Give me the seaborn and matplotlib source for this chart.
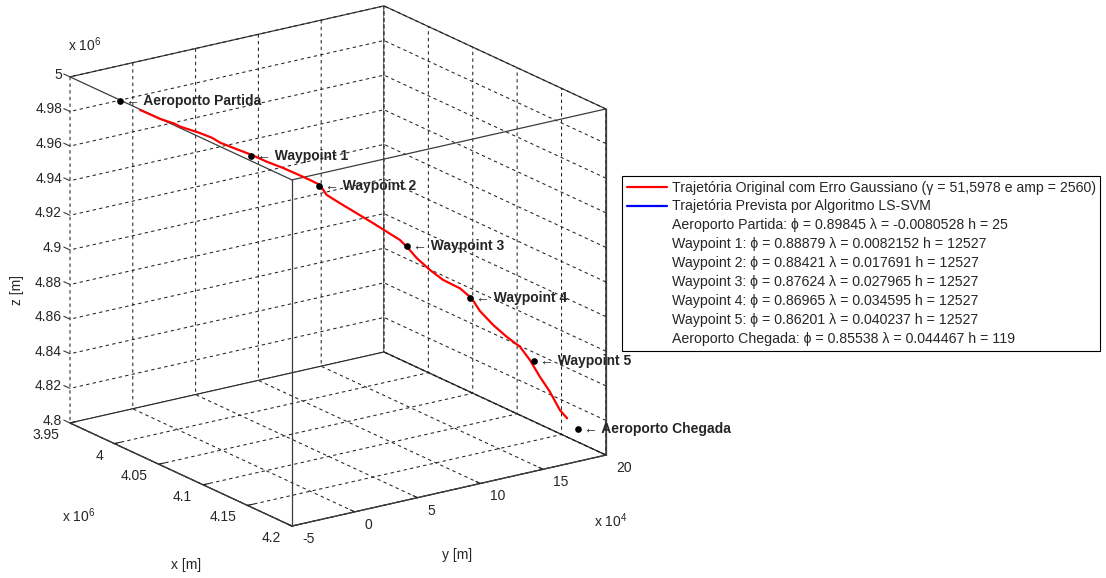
import matplotlib
matplotlib.use("Agg")
import matplotlib.pyplot as plt
from matplotlib.lines import Line2D
from matplotlib.transforms import offset_copy
from mpl_toolkits.mplot3d import proj3d
import seaborn as sns

sns.set_style("white")
plt.rcParams["font.family"] = ["Liberation Sans", "DejaVu Sans"]
plt.rcParams["mathtext.default"] = "regular"

# ---- axis ticks (metres) ----
x_ticks = [3.95e6, 4.00e6, 4.05e6, 4.10e6, 4.15e6, 4.20e6]
y_ticks = [-5e4, 0.0, 5e4, 10e4, 15e4, 20e4]
z_ticks = [4.80e6, 4.82e6, 4.84e6, 4.86e6, 4.88e6, 4.90e6,
           4.92e6, 4.94e6, 4.96e6, 4.98e6, 5.00e6]
x_ticklabels = ["3.95", "4", "4.05", "4.1", "4.15", "4.2"]
y_ticklabels = ["-5", "0", "5", "10", "15", "20"]
z_ticklabels = ["4.8", "4.82", "4.84", "4.86", "4.88", "4.9",
                "4.92", "4.94", "4.96", "4.98", "5"]

# ---- airports / waypoints ----
wp_names = ["Aeroporto Partida", "Waypoint 1", "Waypoint 2", "Waypoint 3",
            "Waypoint 4", "Waypoint 5", "Aeroporto Chegada"]
wp_phi = ["0.89845", "0.88879", "0.88421", "0.87624", "0.86965", "0.86201", "0.85538"]
wp_lam = ["-0.0080528", "0.0082152", "0.017691", "0.027965", "0.034595", "0.040237", "0.044467"]
wp_h = ["25", "12527", "12527", "12527", "12527", "12527", "119"]
# cartesian position of each point, km
wp_x_km = [3980.5, 4036.4, 4058.6, 4096.8, 4128.2, 4164.4, 4187.6]
wp_y_km = [-32.05, 33.16, 71.81, 114.60, 142.87, 167.65, 186.33]
wp_z_km = [4990.1, 4961.1, 4942.6, 4910.1, 4883.1, 4851.4, 4814.4]

# ---- trajectory with gaussian error, km ----
traj_x_km = [3989.17, 3997.67, 4004.04, 4006.17, 4013.95, 4019.64, 4023.17, 4030.27,
             4036.64, 4041.44, 4046.74, 4051.20, 4055.52, 4058.77, 4061.78, 4067.58,
             4074.85, 4082.09, 4087.92, 4093.72, 4097.34, 4101.56, 4108.15, 4114.74,
             4123.01, 4128.81, 4133.63, 4141.24, 4148.91, 4156.52, 4162.24, 4167.66,
             4172.93, 4178.20, 4182.04]
traj_y_km = [-21.94, -12.02, -4.59, -2.10, 6.97, 13.61, 17.73, 26.01,
             33.44, 41.93, 51.16, 58.93, 66.45, 72.11, 75.37, 81.87,
             90.01, 98.12, 104.65, 111.14, 115.20, 118.88, 124.82, 130.75,
             138.19, 143.41, 146.59, 151.80, 157.06, 162.27, 166.19, 170.27,
             174.52, 178.76, 181.85]
traj_z_km = [4985.65, 4980.86, 4978.25, 4976.79, 4973.76, 4971.04, 4968.33, 4964.85,
             4961.85, 4957.72, 4953.83, 4950.15, 4946.47, 4943.43, 4937.83, 4933.35,
             4927.97, 4922.58, 4918.04, 4913.55, 4908.95, 4903.74, 4897.40, 4892.22,
             4888.17, 4882.91, 4876.20, 4869.06, 4863.26, 4858.44, 4851.47, 4842.44,
             4834.32, 4824.31, 4819.91]

km = 1000.0
W, H = 1106, 578
fig = plt.figure(figsize=(W / 100, H / 100), dpi=100)
ax = fig.add_axes([0, 0, H / W, 1], projection="3d", proj_type="ortho")
ax.computed_zorder = False
ax.view_init(elev=18.9, azim=-34.9)
ax.set_box_aspect((388, 383, 366))

x0, x1 = x_ticks[0], x_ticks[-1]
y0, y1 = y_ticks[0], y_ticks[-1]
z0, z1 = z_ticks[0], z_ticks[-1]
ax.set_xlim(x0, x1, view_margin=0)
ax.set_ylim(y0, y1, view_margin=0)
ax.set_zlim(z0, z1, view_margin=0)
ax.set_xticks(x_ticks)
ax.set_yticks(y_ticks)
ax.set_zticks(z_ticks)
# tick labels are placed by hand below, next to the MATLAB-style axis edges
ax.set_xticklabels([""] * len(x_ticks))
ax.set_yticklabels([""] * len(y_ticks))
ax.set_zticklabels([""] * len(z_ticks))

edge = "#3c3c3c"
for axis in (ax.xaxis, ax.yaxis, ax.zaxis):
    axis.set_pane_color("white")
    axis.pane.set_edgecolor(edge)
    axis.pane.set_linewidth(0.9)
    axis.line.set_color(edge)
    axis.line.set_linewidth(0.9)
    axis._axinfo["grid"].update(color="#222222", linewidth=0.75, linestyle=(0, (3.2, 3.2)))
    axis._axinfo["tick"].update(inward_factor=0.0, outward_factor=0.25)
ax.zaxis._axinfo["tick"].update(inward_factor=0.0, outward_factor=0.0)

# front edges of the box
for ex, ey, ez in [([x0, x1], [y0, y0], [z1, z1]),
                   ([x1, x1], [y0, y1], [z1, z1]),
                   ([x1, x1], [y0, y0], [z0, z1])]:
    ax.plot(ex, ey, ez, color=edge, lw=0.9, zorder=2)

# z ticks on the left vertical edge
tick_len = 0.028 * (x1 - x0)
for v in z_ticks:
    ax.plot([x0, x0 - tick_len], [y0, y0], [v, v], color=edge, lw=0.8, zorder=2)

# trajectory
ax.plot([v * km for v in traj_x_km], [v * km for v in traj_y_km],
        [v * km for v in traj_z_km], color="red", lw=1.6, zorder=5)

# waypoints
ax.plot([v * km for v in wp_x_km], [v * km for v in wp_y_km],
        [v * km for v in wp_z_km], ls="none", marker="o", ms=3.8,
        color="black", zorder=6)
for name, xv, yv, zv in zip(wp_names, wp_x_km, wp_y_km, wp_z_km):
    ax.text(xv * km, yv * km, zv * km, "\u2190 " + name, fontsize=10,
            fontweight="bold", ha="left", va="center", zorder=7,
            transform=offset_copy(ax.transData, fig=fig, x=6, y=0, units="dots"))

# tick labels
tick_fs = 10
for v, lab in zip(x_ticks, x_ticklabels):
    ax.text(v, y0, z0, lab, fontsize=tick_fs, ha="right", va="center",
            transform=offset_copy(ax.transData, fig=fig, x=-11, y=-12, units="dots"))
for v, lab in zip(y_ticks, y_ticklabels):
    ax.text(x1, v, z0, lab, fontsize=tick_fs, ha="left", va="center",
            transform=offset_copy(ax.transData, fig=fig, x=10, y=-13, units="dots"))
for v, lab in zip(z_ticks, z_ticklabels):
    ax.text(x0, y0, v, lab, fontsize=tick_fs, ha="right", va="center",
            transform=offset_copy(ax.transData, fig=fig, x=-8, y=2, units="dots"))

# place the box in the figure
fig.canvas.draw()
M = ax.get_proj()


def to_px(x, y, z):
    px, py, _ = proj3d.proj_transform(x, y, z, M)
    return ax.transData.transform((px, py))


pA = to_px(x0, y0, z0)
pC = to_px(x1, y1, z1)
tA = (70.0, H - 423.0)
tC = (606.0, H - 109.0)
k = 0.5 * ((tC[0] - tA[0]) / (pC[0] - pA[0]) + (tC[1] - tA[1]) / (pC[1] - pA[1]))
bb = ax.get_position(original=False).transformed(fig.transFigure)
cx0, cy0 = (bb.x0 + bb.x1) / 2, (bb.y0 + bb.y1) / 2
side = bb.width * k
cx = tA[0] - k * (pA[0] - cx0)
cy = tA[1] - k * (pA[1] - cy0)
ax.set_position([(cx - side / 2) / W, (cy - side / 2) / H, side / W, side / H])

# multiplier labels and axis titles
fig.text(68 / W, 1 - 45 / H, "x 10$^{6}$", fontsize=10, ha="left", va="center")
fig.text(62 / W, 1 - 516 / H, "x 10$^{6}$", fontsize=10, ha="left", va="center")
fig.text(594 / W, 1 - 521 / H, "x 10$^{4}$", fontsize=10, ha="left", va="center")
fig.text(186 / W, 1 - 565 / H, "x [m]", fontsize=10, ha="center", va="center")
fig.text(457 / W, 1 - 555 / H, "y [m]", fontsize=10, ha="center", va="center")
fig.text(17 / W, 1 - 290 / H, "z [m]", fontsize=10, ha="center", va="center", rotation=90)

# legend
handles = [Line2D([], [], color="red", lw=1.6), Line2D([], [], color="blue", lw=1.6)]
labels = ["Trajetória Original com Erro Gaussiano (\u03b3 = 51,5978 e amp = 2560)",
          "Trajetória Prevista por Algoritmo LS-SVM"]
for name, f, l, h in zip(wp_names, wp_phi, wp_lam, wp_h):
    handles.append(Line2D([], [], color="none"))
    labels.append(f"{name}: \u03d5 = {f} \u03bb = {l} h = {h}")
leg = fig.legend(handles, labels, loc="upper left", bbox_to_anchor=(622 / W, 1 - 176 / H),
                 borderaxespad=0, fontsize=10.2, frameon=True, fancybox=False,
                 edgecolor="black", framealpha=1, handlelength=2.85, handletextpad=0.35,
                 labelspacing=0.35, borderpad=0.32)
leg.get_frame().set_linewidth(0.8)

fig.savefig("out.png", dpi=100, facecolor="white")
